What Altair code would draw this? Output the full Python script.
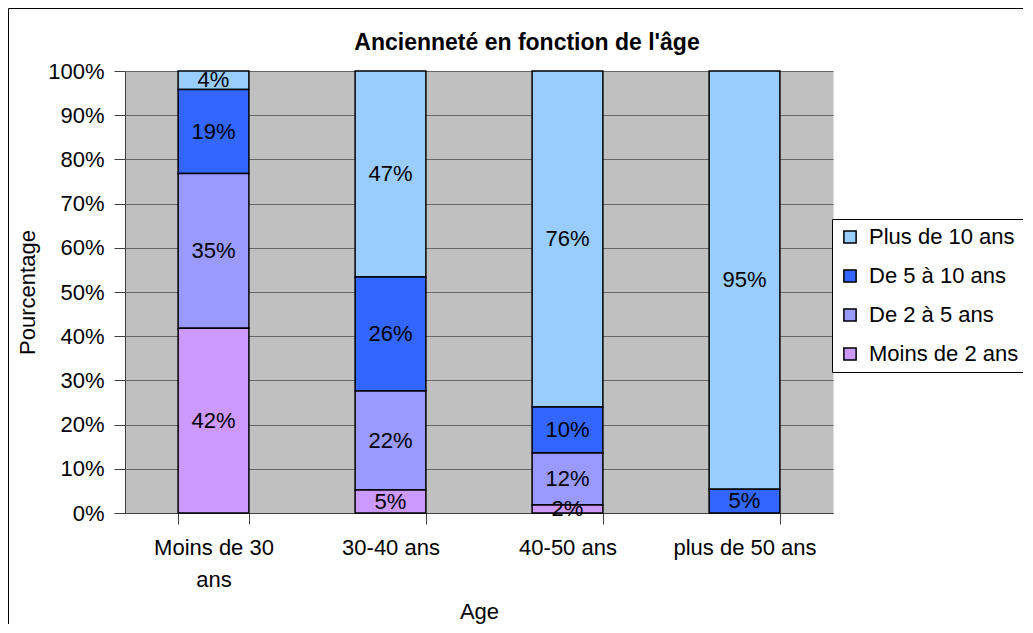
import altair as alt
import pandas as pd

ages = ["Moins de 30 ans", "30-40 ans", "40-50 ans", "plus de 50 ans"]
series = ["Plus de 10 ans", "De 5 à 10 ans", "De 2 à 5 ans", "Moins de 2 ans"]
colors = ["#99CCFF", "#3366FF", "#9999FF", "#CC99FF"]

moins_2 = [41.8, 5.2, 1.8, 0.0]
de_2_a_5 = [35.0, 22.4, 11.8, 0.0]
de_5_a_10 = [19.0, 25.8, 10.4, 5.4]
plus_10 = [4.2, 46.6, 76.0, 94.6]

y_ticks = [0, 10, 20, 30, 40, 50, 60, 70, 80, 90, 100]

FONT = "Liberation Sans"

rows = []
for s, vals in zip(series, [plus_10, de_5_a_10, de_2_a_5, moins_2]):
    for a, v in zip(ages, vals):
        if v > 0:
            rows.append({"age": a, "serie": s, "value": v,
                         "stackorder": len(series) - 1 - series.index(s)})
df = pd.DataFrame(rows)

base = alt.Chart(df).transform_stack(
    stack="value", groupby=["age"], as_=["y0", "y1"],
    sort=[alt.SortField("stackorder", order="ascending")]
).transform_calculate(
    mid="(datum.y0 + datum.y1) / 2",
    label="format(datum.value, '.0f') + '%'"
)

x_enc = alt.X(
    "age:N", sort=ages,
    scale=alt.Scale(paddingInner=0.6, paddingOuter=0.3),
    axis=alt.Axis(
        title="Age", labelAngle=0, labelFont=FONT, labelFontSize=22,
        labelColor="black", labelBaseline="top", labelPadding=13,
        labelLineHeight=32,
        labelExpr="datum.label == 'Moins de 30 ans' ? ['Moins de 30', 'ans'] : datum.label",
        tickBand="extent", tickSize=11, tickColor="#404040",
        domainColor="#404040", grid=False,
        titleFont=FONT, titleFontSize=22, titleFontWeight="normal",
        titleColor="black", titleBaseline="middle", titleY=98, titleX=354,
    ),
)

y_scale = alt.Scale(domain=[0, 100], nice=False)

bars = base.mark_bar(stroke="black", strokeWidth=1.5).encode(
    x=x_enc,
    y=alt.Y(
        "y0:Q", scale=y_scale,
        axis=alt.Axis(
            title="Pourcentage", values=y_ticks, labelExpr="datum.value + '%'",
            labelFont=FONT, labelFontSize=22, labelColor="black",
            labelPadding=10, tickSize=11, tickColor="#404040",
            domainColor="#404040", gridColor="#666666", gridWidth=1,
            titleFont=FONT, titleFontSize=22, titleFontWeight="normal",
            titleColor="black", titleX=-98, titleY=221,
            titleBaseline="middle", titleAlign="center", titleAngle=270,
        ),
    ),
    y2="y1:Q",
    color=alt.Color(
        "serie:N", scale=alt.Scale(domain=series, range=colors),
        legend=alt.Legend(
            title=None, orient="none", legendX=707, legendY=148,
            fillColor="white", strokeColor="black", padding=7, rowPadding=17,
            symbolType="square", symbolSize=150, symbolStrokeColor="black",
            symbolStrokeWidth=1.5, labelFont=FONT, labelFontSize=22,
            labelColor="black", labelOffset=8, labelLimit=400,
        ),
    ),
)

text = base.mark_text(font=FONT, fontSize=22, baseline="middle", color="black").encode(
    x=alt.X("age:N", sort=ages),
    y=alt.Y("mid:Q", scale=y_scale),
    text="label:N",
)

frame = alt.Chart(alt.Data(values=[{"f": 1}])).mark_rect(
    filled=False, stroke="black", strokeWidth=1
).encode(
    x=alt.value(-116.5), x2=alt.value(1300),
    y=alt.value(-62.5), y2=alt.value(1000),
)

chart = alt.layer(frame, bars, text).properties(
    width=708, height=442,
    padding={"left": 117, "top": 63, "right": 190, "bottom": 111},
    autosize=alt.AutoSizeParams(type="none"),
    background="white",
    title=alt.TitleParams(
        "Ancienneté en fonction de l'âge", font=FONT, fontSize=23,
        fontWeight="bold", color="black", anchor="middle", dx=48,
        offset=0, dy=47,
    ),
).configure_view(fill="#C0C0C0", stroke="transparent")

chart.save("out.html", embed_options={"renderer": "svg", "actions": False})
